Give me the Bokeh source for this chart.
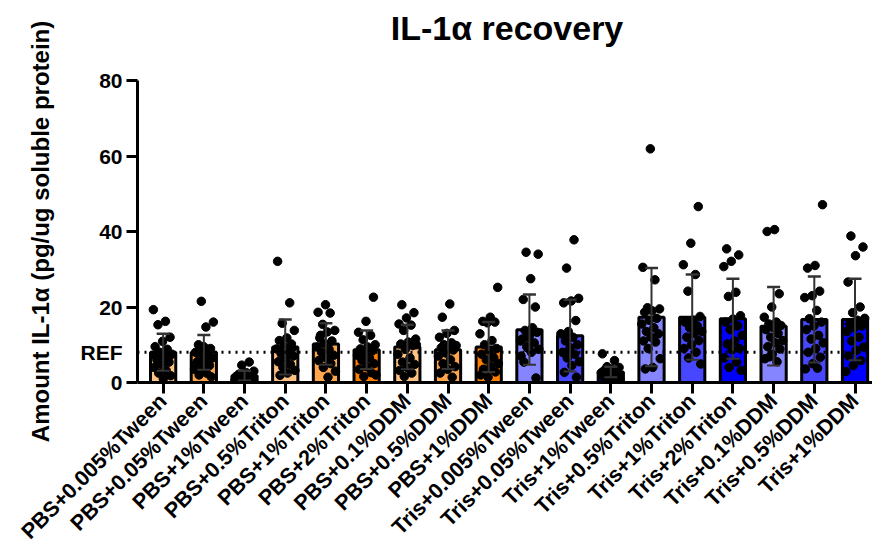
import math
from bokeh.plotting import figure
from bokeh.layouts import column
from bokeh.models import Range1d, FixedTicker, Span, ColumnDataSource, Div, LinearAxis
from bokeh.embed import file_html
from bokeh.resources import INLINE

categories = ["PBS+0.005%Tween", "PBS+0.05%Tween", "PBS+1%Tween",
              "PBS+0.5%Triton", "PBS+1%Triton", "PBS+2%Triton",
              "PBS+0.1%DDM", "PBS+0.5%DDM", "PBS+1%DDM",
              "Tris+0.005%Tween", "Tris+0.05%Tween", "Tris+1%Tween",
              "Tris+0.5%Triton", "Tris+1%Triton", "Tris+2%Triton",
              "Tris+0.1%DDM", "Tris+0.5%DDM", "Tris+1%DDM"]

means = [8.0, 8.0, 1.8, 9.4, 10.2, 8.7, 9.4, 8.7, 9.4,
         14.0, 12.4, 2.8, 17.3, 17.3, 16.9, 14.9, 16.7, 16.7]
sds = [4.9, 4.6, 1.3, 7.3, 5.5, 5.1, 5.9, 5.1, 6.6,
       9.3, 9.5, 1.4, 13.0, 11.3, 10.6, 10.4, 11.4, 10.8]

bar_colors = ["#FFC285", "#FFA64D", "#FF8000"] * 3 + ["#8585FF", "#4747FF", "#0000FF"] * 3

ref_level = 8.0
y_ticks = [0, 20, 40, 60, 80]

pbs_tween_0005 = [19.3, 16.2, 15.3, 12.0, 10.9, 9.5, 8.8, 8.0, 7.5, 6.8, 6.0, 5.4, 4.8, 4.0, 3.2, 2.5, 1.8, 1.0, 7.0, 5.8]
pbs_tween_005 = [21.5, 16.0, 14.7, 10.0, 9.0, 8.5, 8.0, 7.5, 7.0, 6.5, 6.0, 5.5, 4.5, 4.0, 3.5, 2.5, 2.0, 1.5, 9.5, 5.0]
pbs_tween_1 = [5.4, 4.6, 3.0, 2.6, 2.2, 2.0, 1.8, 1.6, 1.5, 1.4, 1.2, 1.0, 0.9, 0.8, 0.7, 0.6, 0.5, 1.3, 2.4, 1.7]
pbs_triton_05 = [32.1, 21.1, 15.7, 13.8, 11.8, 11.1, 10.2, 9.5, 8.9, 8.2, 7.6, 7.0, 6.2, 5.5, 4.8, 4.0, 3.2, 2.5, 1.9, 9.0]
pbs_triton_1 = [20.6, 18.6, 18.4, 15.4, 13.8, 13.4, 11.8, 11.0, 10.3, 9.4, 8.8, 8.0, 7.2, 6.5, 5.8, 5.0, 4.0, 3.0, 1.4, 12.5]
pbs_triton_2 = [22.6, 16.2, 13.3, 12.5, 11.3, 10.0, 9.4, 8.9, 8.4, 7.8, 7.2, 6.5, 5.8, 5.0, 4.2, 3.5, 2.6, 1.6, 2.0, 9.0]
pbs_ddm_01 = [20.6, 18.5, 17.1, 15.5, 15.2, 13.8, 11.5, 10.7, 10.2, 9.8, 8.8, 7.5, 6.5, 5.4, 4.8, 4.0, 3.2, 2.5, 1.6, 10.0]
pbs_ddm_05 = [20.8, 17.3, 13.8, 13.0, 12.0, 10.5, 10.0, 9.8, 9.5, 9.2, 8.6, 7.8, 7.0, 6.0, 5.0, 4.2, 3.5, 2.5, 1.4, 4.0]
pbs_ddm_1 = [25.2, 17.3, 16.2, 16.0, 15.8, 12.9, 11.1, 10.0, 9.0, 8.5, 7.5, 6.5, 6.0, 5.0, 4.2, 3.5, 2.8, 1.4, 2.0, 6.8]
tris_tween_0005 = [34.5, 34.0, 27.5, 22.0, 20.0, 12.0, 11.0, 14.5, 13.8, 13.3, 12.5, 11.5, 10.5, 9.5, 8.8, 8.0, 5.4, 1.2, 9.0, 7.0]
tris_tween_005 = [37.8, 30.3, 22.3, 21.6, 21.1, 16.4, 13.5, 12.9, 12.0, 11.0, 10.0, 9.2, 8.0, 7.5, 6.5, 5.5, 4.5, 2.7, 1.4, 8.5]
tris_tween_1 = [7.6, 5.8, 4.2, 4.0, 3.6, 3.2, 3.0, 2.8, 2.6, 2.4, 2.2, 2.0, 1.8, 1.6, 1.4, 1.2, 1.0, 0.8, 2.5, 2.9]
tris_triton_05 = [61.9, 30.5, 27.2, 19.8, 19.5, 19.0, 18.6, 17.0, 16.5, 15.5, 14.5, 13.5, 12.9, 12.0, 11.0, 10.7, 9.0, 6.3, 4.0, 3.6]
tris_triton_1 = [46.6, 36.9, 31.2, 28.6, 24.2, 17.5, 16.4, 16.0, 15.0, 14.5, 13.5, 13.0, 12.0, 11.1, 10.0, 9.0, 8.0, 6.5, 4.9, 16.5]
tris_triton_2 = [35.4, 33.8, 32.1, 30.7, 23.9, 22.8, 17.7, 16.8, 16.0, 15.0, 14.0, 12.5, 11.0, 10.2, 9.0, 8.7, 6.5, 5.4, 4.0, 3.2]
tris_ddm_01 = [40.5, 40.0, 23.5, 20.0, 17.3, 16.0, 15.5, 15.1, 14.5, 14.0, 13.0, 12.0, 11.1, 10.5, 9.5, 8.9, 7.5, 6.3, 5.5, 6.8]
tris_ddm_05 = [47.1, 31.0, 30.3, 24.2, 23.0, 22.5, 19.1, 16.9, 16.0, 15.0, 14.0, 12.5, 11.5, 10.5, 9.0, 8.0, 6.7, 5.0, 3.6, 3.8]
tris_ddm_1 = [38.8, 35.9, 33.6, 26.6, 20.0, 18.5, 17.0, 16.5, 15.5, 15.0, 14.5, 13.5, 12.0, 11.0, 9.4, 8.5, 7.0, 5.8, 4.5, 2.9]

groups = [pbs_tween_0005, pbs_tween_005, pbs_tween_1, pbs_triton_05, pbs_triton_1, pbs_triton_2,
          pbs_ddm_01, pbs_ddm_05, pbs_ddm_1, tris_tween_0005, tris_tween_005, tris_tween_1,
          tris_triton_05, tris_triton_1, tris_triton_2, tris_ddm_01, tris_ddm_05, tris_ddm_1]

FONT = "Liberation Sans"
TITLE_H = 50

title_div = Div(
    text="IL-1\u03b1 recovery", width=872, height=TITLE_H, margin=0,
    styles={"font-family": "'Liberation Sans', Arial, sans-serif", "font-weight": "bold",
            "font-size": "34px", "line-height": "40px", "color": "black",
            "text-align": "center", "padding-left": "142px", "padding-top": "8px",
            "box-sizing": "border-box", "width": "872px"})

# the figure overlaps the title strip (transparent border) so the y-axis title can reach the top
p = figure(width=872, height=558, output_backend="svg", toolbar_location=None,
           title=None, margin=(-TITLE_H, 0, 0, 0), y_axis_location=None,
           x_range=Range1d(-0.63, 17.43), y_range=Range1d(0, 80),
           min_border_left=137, min_border_right=0, min_border_top=80,
           min_border_bottom=176)
p.outline_line_color = None
p.xgrid.visible = False
p.ygrid.visible = False
p.background_fill_color = "white"
p.border_fill_color = None

xs = list(range(len(categories)))
bar_src = ColumnDataSource(dict(x=xs, top=means, color=bar_colors))
p.vbar(x="x", top="top", bottom=0, width=0.62, source=bar_src,
       fill_color="color", line_color="black", line_width=3)

# scattered points
px, py = [], []
for i, g in enumerate(groups):
    for j, v in enumerate(g):
        off = (((j * 0.6180339887 + i * 0.37) % 1.0) - 0.5) * 0.48
        px.append(i + off)
        py.append(v)
p.scatter(px, py, size=8.5, fill_color="black", line_color="black")

# error bars (mean +/- SD)
lo = [m - s if m - s > 0 else 0 for m, s in zip(means, sds)]
hi = [m + s for m, s in zip(means, sds)]
p.segment(x0=xs, y0=lo, x1=xs, y1=hi, line_color="#333333", line_width=2)
cap = 0.16
p.segment(x0=[x - cap for x in xs], y0=hi, x1=[x + cap for x in xs], y1=hi, line_color="#333333", line_width=2.5)
p.segment(x0=[x - cap for x in xs], y0=lo, x1=[x + cap for x in xs], y1=lo, line_color="#333333", line_width=2)

p.add_layout(Span(location=ref_level, dimension="width", line_color="black",
                  line_width=3, line_dash="2 5"))

# inner y axis: axis line and tick marks only
y_line_axis = LinearAxis(ticker=FixedTicker(ticks=y_ticks), axis_line_width=3, axis_line_color="black",
                         major_tick_line_width=3, major_tick_line_color="black",
                         major_tick_out=11, major_tick_in=0, minor_tick_line_color=None,
                         major_label_overrides={t: "" for t in y_ticks}, major_label_standoff=0)
# outer y axis: tick labels (with REF at the reference level) and axis title
y_label_axis = LinearAxis(ticker=FixedTicker(ticks=sorted(y_ticks + [ref_level])),
                          major_label_overrides={ref_level: "REF"},
                          axis_line_color=None, major_tick_line_color=None, major_tick_out=0,
                          major_tick_in=0, minor_tick_line_color=None,
                          major_label_text_font=FONT, major_label_text_font_style="bold",
                          major_label_text_font_size="21px", major_label_text_color="black",
                          major_label_standoff=4,
                          axis_label="Amount IL-1\u03b1 (pg/ug soluble protein)",
                          axis_label_text_font=FONT, axis_label_text_font_style="bold",
                          axis_label_text_font_size="24px", axis_label_text_color="black",
                          axis_label_standoff=24)
p.add_layout(y_line_axis, "left")
p.add_layout(y_label_axis, "left")

p.xaxis.ticker = FixedTicker(ticks=xs)
p.xaxis.major_label_overrides = {i: c for i, c in enumerate(categories)}
p.xaxis.major_label_orientation = math.pi / 4
p.xaxis.axis_line_width = 3
p.xaxis.axis_line_color = "black"
p.xaxis.major_tick_line_width = 3
p.xaxis.major_tick_line_color = "black"
p.xaxis.major_tick_out = 11
p.xaxis.major_tick_in = 0
p.xaxis.minor_tick_line_color = None
p.xaxis.major_label_text_font = FONT
p.xaxis.major_label_text_font_style = "bold"
p.xaxis.major_label_text_font_size = "21.5px"
p.xaxis.major_label_text_color = "black"
p.xaxis.major_label_standoff = 4

layout = column(title_div, p, spacing=0, margin=0)
open("out.html", "w").write(file_html(layout, INLINE))
